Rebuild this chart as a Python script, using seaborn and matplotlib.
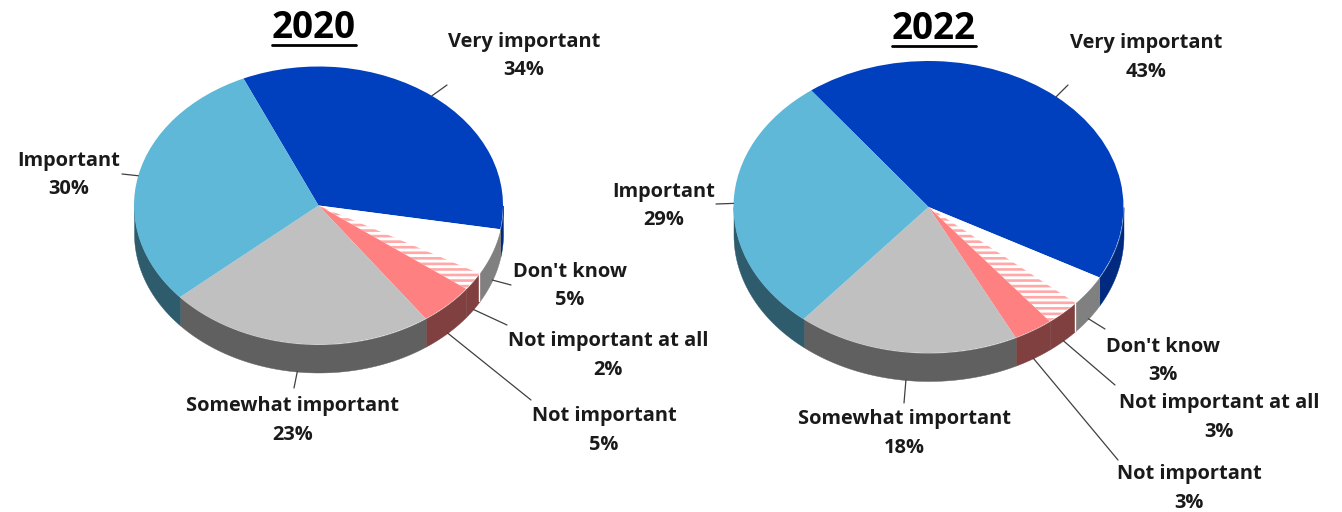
import numpy as np
import matplotlib
matplotlib.use("Agg")
import matplotlib.pyplot as plt
from matplotlib.lines import Line2D
import seaborn as sns

categories = ["Very important", "Don't know", "Not important at all",
              "Not important", "Somewhat important", "Important"]
values_2020 = [34.4, 5.4, 2.1, 4.9, 23.4, 29.8]
values_2022 = [43.2, 3.4, 2.9, 3.3, 18.4, 28.6]
titles = ["2020", "2022"]

sns.set_theme(style="white")
plt.rcParams["font.family"] = ["Open Sans", "DejaVu Sans"]
plt.rcParams["hatch.linewidth"] = 1.9

W, H = 1342, 512
top_colors = sns.color_palette(["#0040BF", "#FFFFFF", "#FFFFFF", "#FF8080", "#C0C0C0", "#60B8D8"])
wall_colors = sns.color_palette(["#002A80", "#808080", "#804040", "#804040", "#606060", "#2F5C6C"])

# layout, in reference pixels
layout_2020 = dict(cx=318.5, cy=205.5, rx=184.5, ry=139, depth=28, start=114, title=(314, 28),
                   labels=[(524, 54.5), (570, 284.5), (608, 354), (604, 429), (293, 419), (69, 173.5)],
                   ends=[(447, 85), (511, 285), (507, 325), (531, 400), (294, 388), (122, 174)])
layout_2022 = dict(cx=928.5, cy=207, rx=195, ry=146, depth=28, start=127, title=(934, 29),
                   labels=[(1146, 56), (1163, 359.5), (1219, 416), (1189, 487), (904, 432), (664, 204.5)],
                   ends=[(1068, 85), (1105, 329), (1115, 385), (1118, 460), (904, 403), (716, 204)])


def draw_pie(fig, values, title, lay):
    ax = fig.add_axes([0, 0, 1, 1], facecolor="none")
    cx, cy, rx, ry, d = lay["cx"], lay["cy"], lay["rx"], lay["ry"], lay["depth"] / lay["ry"]
    wedges, _ = ax.pie(values, startangle=lay["start"], counterclock=False, colors=top_colors,
                       wedgeprops=dict(linewidth=0), radius=1, normalize=True)
    ax.set_aspect("auto")
    ax.set_xlim(-cx / rx, (W - cx) / rx)
    ax.set_ylim(-(H - cy) / ry, cy / ry)
    ax.axis("off")

    # hatched slice
    wedges[2].set(facecolor="white", edgecolor="#FFA8A8", hatch="---", linewidth=0)

    # side wall, drawn from the slice angles
    for wedge, wall in zip(wedges, wall_colors):
        a0, a1 = wedge.theta1, wedge.theta2
        for shift in (-360, 0, 360):
            lo, hi = max(a0 + shift, 180), min(a1 + shift, 360)
            if hi > lo:
                t = np.radians(np.linspace(lo, hi, 80))
                ax.fill_between(np.cos(t), np.sin(t), np.sin(t) - d, color=wall, linewidth=0.3, zorder=0.5)

    # thin light seam beside the white slice
    t = np.radians(wedges[1].theta1)
    ax.plot([np.cos(t)] * 2, [np.sin(t), np.sin(t) - d], color="white", lw=1.0, zorder=0.6)

    # leaders and labels
    for wedge, cat, val, pos, end in zip(wedges, categories, values, lay["labels"], lay["ends"]):
        t = np.radians((wedge.theta1 + wedge.theta2) / 2)
        x, y = np.cos(t), np.sin(t)
        if y < -0.02:
            y -= d
        ax.annotate("", xy=(x, y), xytext=(end[0] / W, 1 - end[1] / H), textcoords="axes fraction",
                    arrowprops=dict(arrowstyle="-", color="#404040", lw=0.9, shrinkA=0, shrinkB=0))
        ax.text(pos[0] / W, 1 - (pos[1] + 1.5) / H, f"{cat}\n{round(val)}%", transform=ax.transAxes, ha="center",
                va="center", fontsize=14.4, fontweight="bold", color="#1A1A1A", linespacing=1.58)

    # title, underlined
    tx = ax.text(lay["title"][0] / W, 1 - lay["title"][1] / H, title, transform=ax.transAxes,
                 ha="center", va="center", fontsize=26.5, fontweight="bold", color="black")
    box = tx.get_window_extent(fig.canvas.get_renderer())
    yl = 1 - (lay["title"][1] + 17) / H
    ax.add_line(Line2D([box.x0 / W, box.x1 / W], [yl, yl], transform=ax.transAxes, color="black", lw=2))


fig = plt.figure(figsize=(W / 100, H / 100), dpi=100, facecolor="white")
draw_pie(fig, values_2020, titles[0], layout_2020)
draw_pie(fig, values_2022, titles[1], layout_2022)
fig.savefig("out.png", dpi=100, facecolor="white")
